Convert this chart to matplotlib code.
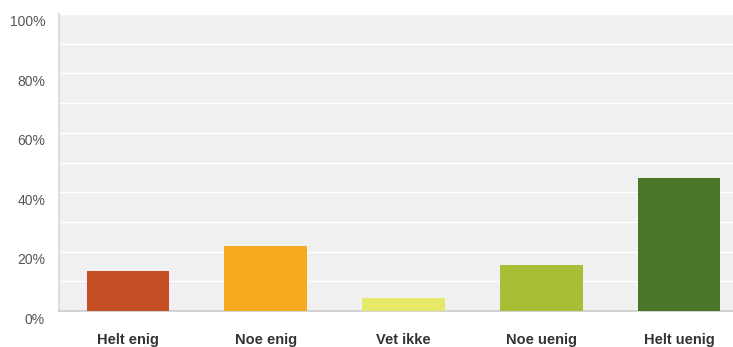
import numpy as np
import matplotlib.pyplot as plt
import matplotlib.transforms as mtransforms

# data
categories = ['Helt enig', 'Noe enig', 'Vet ikke', 'Noe uenig', 'Helt uenig']
values = [13.3, 21.9, 4.4, 15.6, 44.8]
colors = ['#c44e24', '#f6aa1f', '#e6e86a', '#a9bd37', '#4a7628']
yticks = [0, 20, 40, 60, 80, 100]

plt.rcParams['font.family'] = ['Liberation Sans', 'DejaVu Sans']

fig = plt.figure(figsize=(7.33, 3.47), dpi=100)
ax = fig.add_axes([59/733, 1 - 311/347, 689/733, 297/347])
ax.set_facecolor('#f0f0f0')

x = np.arange(len(categories))
ax.bar(x, values, width=0.6, color=colors, zorder=3)

ax.set_xlim(-0.5, len(categories) - 0.5)
ax.set_ylim(0, 100)

# white gridlines every 10%
for g in range(10, 101, 10):
    ax.axhline(g, color='white', lw=1.0, zorder=1)

ax.set_yticks(yticks)
ax.set_yticklabels([f'{t}%' for t in yticks], fontsize=10, color='#555555')
ax.set_xticks(x)
ax.set_xticklabels(categories, fontsize=10.5, fontweight='bold', color='#333333')
ax.tick_params(axis='both', length=0)
ax.tick_params(axis='x', pad=16)
ax.tick_params(axis='y', pad=10)

# y labels sit a little below their lines
offset = mtransforms.ScaledTranslation(0, -7/100, fig.dpi_scale_trans)
for lab in ax.get_yticklabels():
    lab.set_transform(lab.get_transform() + offset)

for side in ['top', 'right']:
    ax.spines[side].set_visible(False)
ax.spines['left'].set_color('#dddddd')
ax.spines['left'].set_linewidth(1.5)
ax.spines['bottom'].set_color('#cccccc')
ax.spines['bottom'].set_linewidth(1.2)

fig.savefig('out.png', dpi=100)
